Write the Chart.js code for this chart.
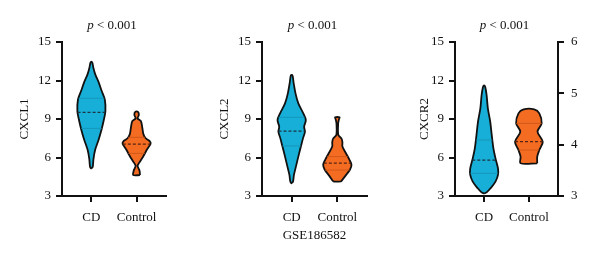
<!DOCTYPE html>
<html lang="en">
<head>
<meta charset="UTF-8" />
<title>CXCL violins</title>
<script src="https://cdn.jsdelivr.net/npm/chart.js@4.4.0/dist/chart.umd.min.js"></script>
<style>
  * { margin: 0; padding: 0; box-sizing: border-box; }
  body { width: 600px; height: 260px; background: #fff; position: relative; overflow: hidden; }
  .panel { position: absolute; top: 0; width: 200px; height: 260px; }
  #p1 { left: 0; }
  #p2 { left: 200px; }
  #p3 { left: 400px; }
</style>
</head>
<body>
<div class="panel" id="p1"><canvas id="c1"></canvas></div>
<div class="panel" id="p2"><canvas id="c2"></canvas></div>
<div class="panel" id="p3"><canvas id="c3"></canvas></div>
<script>
const groups = ["CD", "Control"];
const yTicks = [3, 6, 9, 12, 15];
const rightTicks = [3, 4, 5, 6];
const pValue = "< 0.001";
const dataset = "GSE186582";

// CXCL1
const cxcl1CdLevels = [5.15, 5.3, 5.9, 6.6, 7.4, 8.2, 9.0, 9.6, 10.5, 11.2, 11.8, 12.5, 13.0, 13.35, 13.45];
const cxcl1CdDensity = [0.03, 0.1, 0.15, 0.27, 0.52, 0.73, 0.9, 1.0, 0.96, 0.73, 0.54, 0.27, 0.14, 0.08, 0.03];
const cxcl1CtlLevels = [4.63, 4.96, 5.35, 5.6, 6.12, 6.64, 7.08, 7.28, 7.5, 7.8, 8.3, 8.83, 9.05, 9.31, 9.56];
const cxcl1CtlDensity = [0.24, 0.21, 0.07, 0.19, 0.49, 0.75, 1.0, 0.93, 0.65, 0.49, 0.41, 0.31, 0.07, 0.16, 0.1];
const cxcl1Quartiles = [[8.27, 9.52, 10.61], [6.32, 7.05, 7.57]];

// CXCL2
const cxcl2CdLevels = [4.0, 4.15, 4.64, 5.29, 6.07, 6.85, 7.49, 8.01, 8.4, 8.92, 9.44, 10.22, 11.0, 11.8, 12.3, 12.43];
const cxcl2CdDensity = [0.03, 0.1, 0.16, 0.3, 0.47, 0.65, 0.8, 0.94, 0.88, 1.0, 0.82, 0.47, 0.27, 0.14, 0.08, 0.03];
const cxcl2CtlLevels = [4.14, 4.53, 5.05, 5.43, 5.82, 6.33, 6.85, 7.2, 7.49, 7.75, 8.66, 8.95, 9.13];
const cxcl2CtlDensity = [0.27, 0.54, 0.89, 1.0, 0.86, 0.61, 0.36, 0.36, 0.29, 0.07, 0.06, 0.11, 0.16];
const cxcl2Quartiles = [[6.9, 8.06, 9.13], [5.02, 5.56, 6.07]];

// CXCR2
const cxcr2CdLevels = [3.2, 3.3, 3.6, 4.12, 4.64, 5.15, 5.93, 6.71, 7.75, 8.79, 9.83, 10.87, 11.45, 11.6];
const cxcr2CdDensity = [0.03, 0.2, 0.46, 0.82, 1.0, 1.0, 0.82, 0.67, 0.55, 0.44, 0.27, 0.18, 0.09, 0.03];
const cxcr2CtlLevels = [5.55, 6.06, 6.58, 7.23, 8.01, 8.66, 9.44, 9.75];
const cxcr2CtlDensity = [0.6, 0.6, 0.75, 1.0, 0.62, 0.92, 0.75, 0.38];
const cxcr2Quartiles = [[4.77, 5.8, 7.36], [6.58, 7.23, 8.66]];

const halfScale = 0.31;
const fills = ["#17afd7", "#f36c22"];
const quartColors = ["#1590b2", "#c95418"];
const medianColors = ["#1b3442", "#5a2410"];
const ink = "#111";

Chart.defaults.font.family = '"Liberation Serif", "Times New Roman", serif';
Chart.defaults.font.size = 13;
Chart.defaults.color = ink;

function interp(v, levels, dens) {
  if (v <= levels[0]) return dens[0];
  for (let i = 1; i < levels.length; i++) {
    if (v <= levels[i]) {
      const t = (v - levels[i - 1]) / (levels[i] - levels[i - 1]);
      return dens[i - 1] + t * (dens[i] - dens[i - 1]);
    }
  }
  return dens[dens.length - 1];
}

function outline(c, levels, dens) {
  const right = levels.map((v, i) => ({ x: c + halfScale * dens[i], y: v }));
  const left = levels.map((v, i) => ({ x: c - halfScale * dens[i], y: v })).reverse();
  return right.concat(left, [right[0]]);
}

function violinSets(violins, quartiles) {
  const lines = [];
  const shapes = [];
  violins.forEach((vl, c) => {
    quartiles[c].forEach((q, k) => {
      const h = halfScale * interp(q, vl[0], vl[1]);
      lines.push({
        data: [{ x: c - h, y: q }, { x: c + h, y: q }],
        showLine: true,
        borderColor: k === 1 ? medianColors[c] : quartColors[c],
        borderWidth: k === 1 ? 1.2 : 0.8,
        borderDash: k === 1 ? [3, 2] : [],
        pointRadius: 0,
        fill: false,
      });
    });
    shapes.push({
      data: outline(c, vl[0], vl[1]),
      showLine: true,
      fill: "shape",
      backgroundColor: fills[c],
      borderColor: ink,
      borderWidth: 1.8,
      tension: 0.3,
      pointRadius: 0,
    });
  });
  return lines.concat(shapes);
}

const pTitle = {
  id: "pTitle",
  afterDraw(chart) {
    const { ctx, chartArea } = chart;
    const fam = Chart.defaults.font.family;
    ctx.save();
    ctx.fillStyle = ink;
    ctx.textBaseline = "middle";
    ctx.font = "italic 13px " + fam;
    const w1 = ctx.measureText("p").width;
    ctx.font = "13px " + fam;
    const rest = " " + pValue;
    const w2 = ctx.measureText(rest).width;
    let x = (chartArea.left + chartArea.right) / 2 - (w1 + w2) / 2 - 2;
    ctx.font = "italic 13px " + fam;
    ctx.fillText("p", x, 26);
    ctx.font = "13px " + fam;
    ctx.fillText(rest, x + w1, 26);
    ctx.restore();
  },
};

const gridOpts = { display: true, drawOnChartArea: false, drawTicks: true, tickLength: 6, color: ink, lineWidth: 2 };
const borderOpts = { display: true, color: ink, width: 2 };

function makeChart(id, gene, violins, quartiles, o) {
  const scales = {
    x: {
      type: "linear",
      min: -0.65,
      max: 1.65,
      grid: gridOpts,
      border: borderOpts,
      afterBuildTicks: (s) => { s.ticks = groups.map((g, i) => ({ value: i })); },
      afterFit: (s) => { s.height = 64; },
      ticks: { padding: 8, callback: (v) => groups[v], font: { size: 13 } },
      title: { display: !!o.xTitle, text: o.xTitle || "", padding: { top: 0, bottom: 17 }, font: { size: 13 } },
    },
    y: {
      min: 3,
      max: 15,
      grid: gridOpts,
      border: borderOpts,
      afterBuildTicks: (s) => { s.ticks = yTicks.map((v) => ({ value: v })); },
      afterFit: (s) => { s.width = o.yWidth; },
      ticks: { padding: 5, font: { size: 13 } },
      title: { display: true, text: gene, padding: { top: 17, bottom: 0 }, font: { size: 13 } },
    },
  };
  if (o.right) {
    scales.y2 = {
      position: "right",
      min: 3,
      max: 6,
      grid: gridOpts,
      border: borderOpts,
      afterBuildTicks: (s) => { s.ticks = rightTicks.map((v) => ({ value: v })); },
      afterFit: (s) => { s.width = 42; },
      ticks: { padding: 7, font: { size: 13 } },
    };
  }
  return new Chart(document.getElementById(id), {
    type: "scatter",
    data: { datasets: violinSets(violins, quartiles) },
    options: {
      responsive: true,
      maintainAspectRatio: false,
      animation: false,
      events: [],
      layout: { padding: { top: 42, right: o.padRight, bottom: 0, left: 0 } },
      plugins: { legend: { display: false }, tooltip: { enabled: false } },
      scales: scales,
    },
    plugins: [pTitle],
  });
}

makeChart("c1", "CXCL1",
  [[cxcl1CdLevels, cxcl1CdDensity], [cxcl1CtlLevels, cxcl1CtlDensity]],
  cxcl1Quartiles, { yWidth: 62, padRight: 34 });
makeChart("c2", "CXCL2",
  [[cxcl2CdLevels, cxcl2CdDensity], [cxcl2CtlLevels, cxcl2CtlDensity]],
  cxcl2Quartiles, { yWidth: 62, padRight: 33, xTitle: dataset });
makeChart("c3", "CXCR2",
  [[cxcr2CdLevels, cxcr2CdDensity], [cxcr2CtlLevels, cxcr2CtlDensity]],
  cxcr2Quartiles, { yWidth: 55, padRight: 0, right: true });
</script>
</body>
</html>
